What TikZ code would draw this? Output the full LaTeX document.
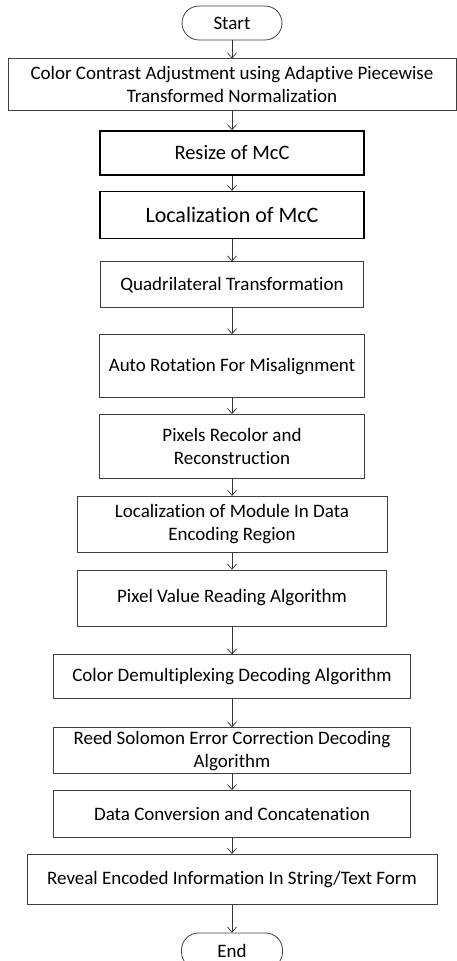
\documentclass[tikz,border=0pt]{standalone}
\usepackage{fontspec}
\setmainfont[Ligatures=NoCommon]{Carlito}
\usetikzlibrary{shapes,arrows.meta,positioning}

\begin{document}
\begin{tikzpicture}[
    x=1pt, y=1pt,
    box/.style={rectangle, draw=black!75, line width=0.8pt, align=center, inner sep=2pt,
      font=\fontsize{19}{23}\selectfont},
    boldbox/.style={box, draw=black, line width=1.6pt, font=\fontsize{20.5}{24}\selectfont},
    term/.style={box, rounded corners=17pt, minimum width=100pt, minimum height=34pt},
    arrow/.style={-{Straight Barb[length=5pt,width=9pt]}, draw=black!80, line width=0.7pt}
  ]
    \useasboundingbox (0,0) rectangle (457,-961);

    \node[term] (start) at (232,-23) {Start};
    \node[box, below=18pt of start, minimum width=448pt, minimum height=52pt] (contrast)
      {Color Contrast Adjustment using Adaptive Piecewise\\Transformed Normalization};
    \node[boldbox, below=19pt of contrast, minimum width=264pt, minimum height=44pt] (resize) {Resize of McC};
    \node[boldbox, below=15pt of resize, minimum width=264pt, minimum height=47pt,
      font=\fontsize{22}{26}\selectfont] (locmcc) {Localization of McC};
    \node[box, below=22pt of locmcc, minimum width=263pt, minimum height=46pt] (quad) {Quadrilateral Transformation};
    \node[box, below=26pt of quad, minimum width=265pt, minimum height=63pt] (rotate) {Auto Rotation For Misalignment};
    \node[box, below=16pt of rotate, minimum width=265pt, minimum height=64pt] (recolor) {Pixels Recolor and\\Reconstruction};
    \node[box, below=17pt of recolor, minimum width=310pt, minimum height=56pt] (locmod) {Localization of Module In Data\\Encoding Region};
    \node[box, below=17pt of locmod, minimum width=309pt, minimum height=56pt] (pixread) {Pixel Value Reading Algorithm};
    \node[box, below=28pt of pixread, minimum width=357pt, minimum height=44pt] (demux) {Color Demultiplexing Decoding Algorithm};
    \node[box, below=28pt of demux, minimum width=357pt, minimum height=46pt] (reedsol) {Reed Solomon Error Correction Decoding\\Algorithm};
    \node[box, below=16pt of reedsol, minimum width=357pt, minimum height=47pt] (convert) {Data Conversion and Concatenation};
    \node[box, below=16pt of convert, minimum width=410pt, minimum height=50pt] (reveal) {Reveal Encoded Information In String/Text Form};
    \node[term, below=28pt of reveal, minimum width=101pt, minimum height=36pt] (end) {End};

    \foreach \a/\b in {start/contrast, contrast/resize, resize/locmcc, locmcc/quad, quad/rotate,
      rotate/recolor, recolor/locmod, locmod/pixread, pixread/demux, demux/reedsol,
      reedsol/convert, convert/reveal, reveal/end}
      \draw[arrow] (\a) -- (\b);
  \end{tikzpicture}
\end{document}
